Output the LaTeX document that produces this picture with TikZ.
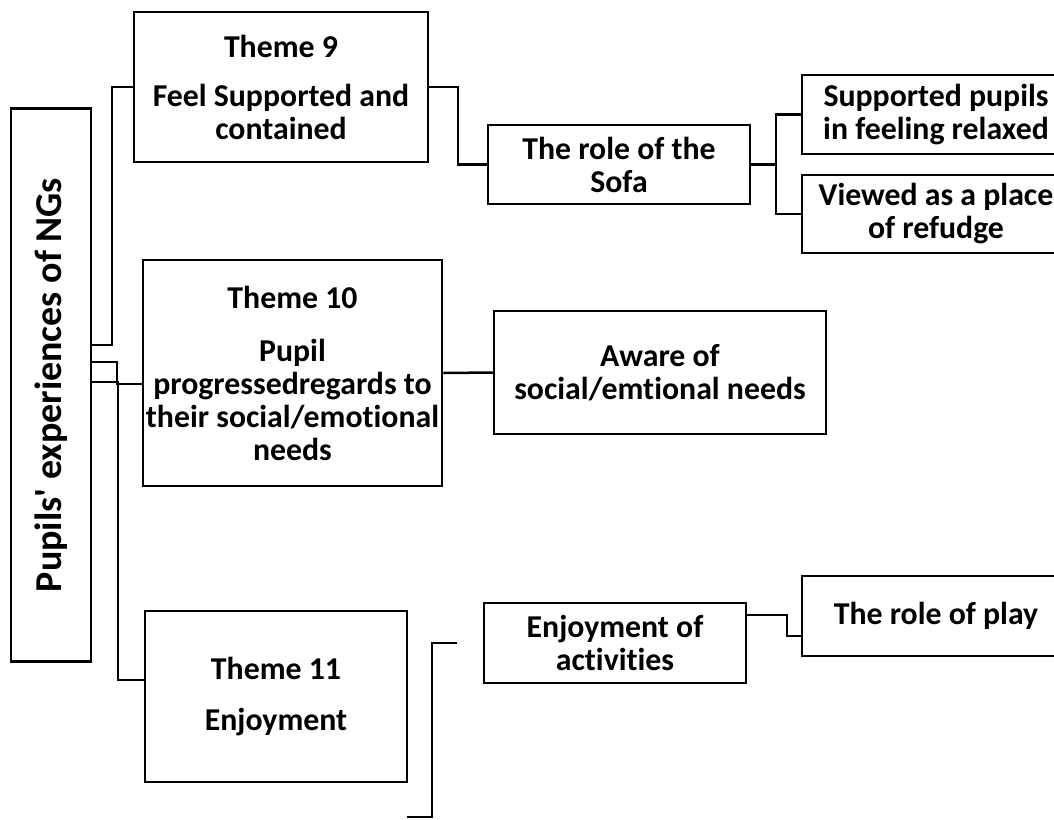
\documentclass[tikz,border=0pt]{standalone}
\usepackage{fontspec}
\setmainfont{Carlito}[Ligatures={TeXOff,CommonOff}]
\usepackage{tikz}

\begin{document}
\begin{tikzpicture}[x=1pt, y=-1pt, line width=2.5pt,
  box/.style={draw, rectangle, inner sep=0pt, align=center,
    font=\bfseries\fontsize{31.8}{33}\selectfont}]
\useasboundingbox (0,0) rectangle (1054,819);
\clip (0,0) rectangle (1054,819);

% main box
\node[box, minimum width=80pt, minimum height=553pt, font=\bfseries\fontsize{38}{40}\selectfont] (main) at (51,385) {\rotatebox{90}{Pupils' experiences of NGs}};

% themes
\node[box, minimum width=294pt, minimum height=150pt] (theme9) at (281,87) {Theme 9\\[16pt]Feel Supported and\\contained};
\node[box, minimum width=299pt, minimum height=226pt] (theme10) at (292.5,373) {Theme 10\\[20pt]Pupil\\progressedregards to\\their social/emotional\\needs};
\node[box, minimum width=262pt, minimum height=171pt] (theme11) at (276,696.5) {Theme 11\\[18pt]Enjoyment};

% sub themes
\node[box, minimum width=262pt, minimum height=79pt] (sofa) at (619,164.5) {The role of the\\Sofa};
\node[box, minimum width=268pt, minimum height=79pt] (relaxed) at (936,114.5) {Supported pupils\\in feeling relaxed};
\node[box, minimum width=268pt, minimum height=78pt] (refuge) at (936,214) {Viewed as a place\\of refudge};
\node[box, minimum width=332pt, minimum height=123pt] (aware) at (660,372.5) {Aware of\\social/emtional needs};
\node[box, minimum width=262pt, minimum height=80pt] (activities) at (615,643) {Enjoyment of\\activities};
\node[box, minimum width=268pt, minimum height=80pt] (play) at (936,616) {The role of play};

% links
\draw (main.east |- 0,345) -- (112,345) |- (theme9.west);
\draw (main.east |- 0,362) -- (117,362) |- ([yshift=-11pt]theme10.west);
\draw (main.east |- 0,382) -- (118,382) |- ([yshift=16.5pt]theme11.west);
\draw (theme9.east) -- (458,87) |- (sofa.west);
\draw (sofa.east) -- (776,164.5) |- (relaxed.west);
\draw (776,164.5) |- (refuge.west);
\draw (theme10.east) -- (aware.west);
\draw ([yshift=28pt]activities.east) -- (787,615) |- ([yshift=-20pt]play.west);

% loose bracket
\coordinate (stubA) at (407,817);
\coordinate (stubB) at (457,643);
\draw (stubA) -| (432,643) -- (stubB);
\end{tikzpicture}
\end{document}
